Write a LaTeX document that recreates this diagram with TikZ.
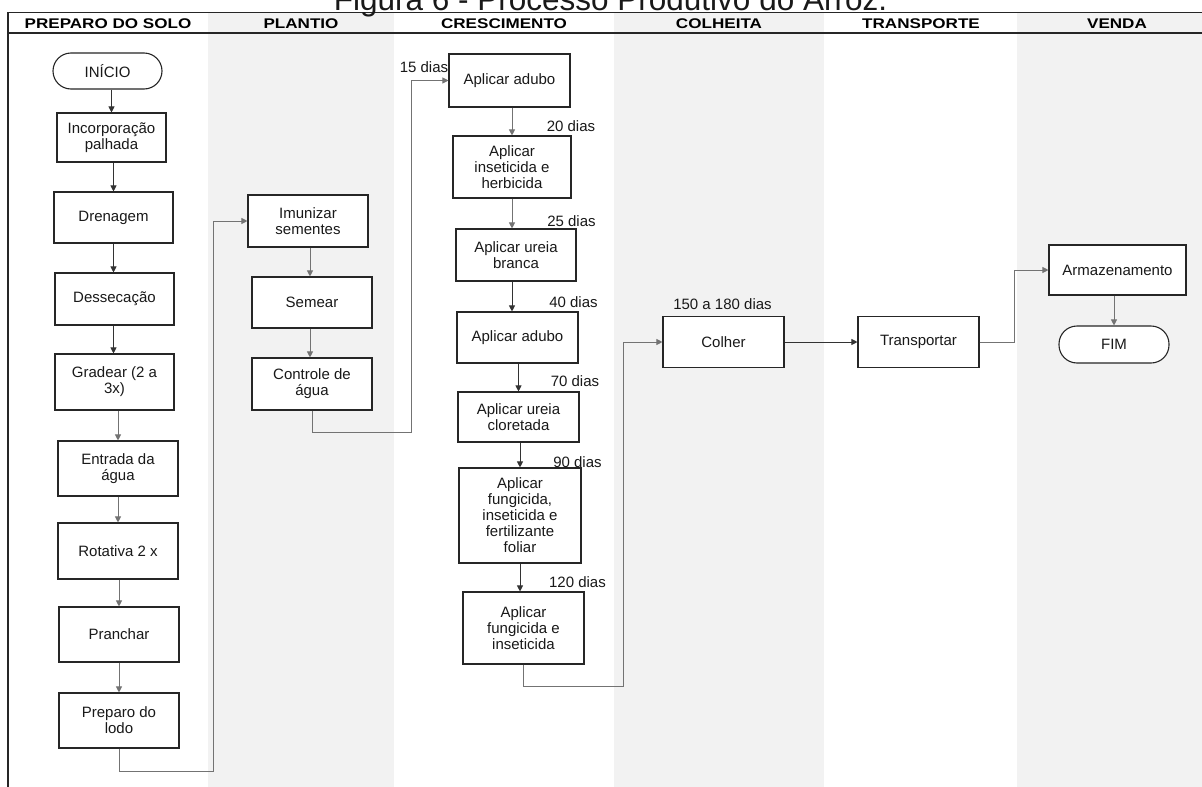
\documentclass[tikz,border=0pt]{standalone}
\usepackage{fontspec}
\setmainfont{Liberation Sans}
\newfontfamily\hdrfont[FakeStretch=1.22]{Liberation Sans}
\usetikzlibrary{arrows.meta}
\definecolor{lanegray}{HTML}{F2F2F2}
\begin{document}
\begin{tikzpicture}[x=1pt,y=-1pt,
  box/.style={draw=black!85, line width=1.1pt, fill=white, align=center, inner sep=2pt,
    font=\fontsize{15}{16}\selectfont, text=black!90},
  term/.style={box, rounded corners=18pt},
  arr/.style={draw=black!80, line width=0.9pt, -{Triangle[length=6pt,width=6pt]}},
  arrgray/.style={draw=black!55, line width=0.9pt, -{Triangle[length=6pt,width=6pt]}},
  lbl/.style={font=\fontsize{15}{16}\selectfont, text=black!90, inner sep=0pt},
  hdr/.style={font=\hdrfont\bfseries\fontsize{14}{16}\selectfont, anchor=base, inner sep=0pt},
  frame/.style={draw=black!85, line width=1.3pt}]
\useasboundingbox (0,0) rectangle (1202,787);
\fill[white] (0,0) rectangle (1202,787);
% lanes
\fill[lanegray] (208,12.3) rectangle (394,787);
\fill[lanegray] (614,12.3) rectangle (824,787);
\fill[lanegray] (1017,12.3) rectangle (1202,787);
% frame
\draw[frame] (8,12.3) -- (1202,12.3);
\draw[frame] (8,33) -- (1202,33);
\draw[frame] (8,12.3) -- (8,787);
% title
\node[anchor=base, inner sep=0pt, font=\fontsize{31.5}{36}\selectfont, text=black!90] (title) at (610.5,10.5) {Figura 6 - Processo Produtivo do Arroz.};
% headers
\node[hdr] (h1) at (108,28) {PREPARO DO SOLO};
\node[hdr] (h2) at (301,28) {PLANTIO};
\node[hdr] (h3) at (504,28) {CRESCIMENTO};
\node[hdr] (h4) at (719,28) {COLHEITA};
\node[hdr] (h5) at (921,28) {TRANSPORTE};
\node[hdr] (h6) at (1117,28) {VENDA};
% preparo do solo
\node[term, minimum width=109pt, minimum height=36pt] (ini) at (107.5,71) {INÍCIO};
\node[box, minimum width=109pt, minimum height=49pt] (inc) at (111.5,137.5) {Incorporação\\palhada};
\node[box, minimum width=119pt, minimum height=51pt] (dren) at (113.5,217.5) {Drenagem};
\node[box, minimum width=119pt, minimum height=52pt] (dess) at (114.5,299) {Dessecação};
\node[box, minimum width=119pt, minimum height=56pt] (grad) at (114.5,382) {Gradear (2 a\\3x)};
\node[box, minimum width=120pt, minimum height=55pt] (entr) at (118,468.5) {Entrada da\\água};
\node[box, minimum width=120pt, minimum height=56pt] (rot) at (118,551) {Rotativa 2 x};
\node[box, minimum width=120pt, minimum height=55pt] (pran) at (119,634.5) {Pranchar};
\node[box, minimum width=120pt, minimum height=55pt] (lodo) at (119,720.5) {Preparo do\\lodo};
% plantio
\node[box, minimum width=120pt, minimum height=52pt] (imun) at (308,221) {Imunizar\\sementes};
\node[box, minimum width=120pt, minimum height=51pt] (sem) at (312,302.5) {Semear};
\node[box, minimum width=120pt, minimum height=52pt] (ctrl) at (312,384) {Controle de\\água};
% crescimento
\node[box, minimum width=121pt, minimum height=53pt] (ad1) at (509.5,80.5) {Aplicar adubo};
\node[box, minimum width=118pt, minimum height=62pt] (ins) at (512,167) {Aplicar\\inseticida e\\herbicida};
\node[box, minimum width=120pt, minimum height=52pt] (ub) at (516,255) {Aplicar ureia\\branca};
\node[box, minimum width=121pt, minimum height=51pt] (ad2) at (517.5,337.5) {Aplicar adubo};
\node[box, minimum width=121pt, minimum height=50pt] (clo) at (518.5,417) {Aplicar ureia\\cloretada};
\node[box, minimum width=122pt, minimum height=95pt] (fun1) at (520,515.5) {Aplicar\\fungicida,\\inseticida e\\fertilizante\\foliar};
\node[box, minimum width=121pt, minimum height=72pt] (fun2) at (523.5,628) {Aplicar\\fungicida e\\inseticida};
% colheita, transporte, venda
\node[box, minimum width=121pt, minimum height=51pt] (col) at (723.5,342) {Colher};
\node[box, minimum width=121pt, minimum height=51pt] (tra) at (918.5,342) {Transportar};
\node[box, minimum width=137pt, minimum height=50pt] (arm) at (1117.5,270) {Armazenamento};
\node[term, minimum width=110pt, minimum height=37pt] (fim) at (1114,344.5) {FIM};
% labels
\node[lbl] (l15) at (424,67) {15 dias};
\node[lbl] (l20) at (571,126) {20 dias};
\node[lbl] (l25) at (571.5,221) {25 dias};
\node[lbl] (l40) at (573.5,302) {40 dias};
\node[lbl] (l70) at (575,381) {70 dias};
\node[lbl] (l90) at (577.5,462) {90 dias};
\node[lbl] (l120) at (577.5,582) {120 dias};
\node[lbl] (l150) at (722.5,304) {150 a 180 dias};
% connectors
\draw[arr] (inc.north |- ini.south) -- (inc.north);
\draw[arr] (dren.north |- inc.south) -- (dren.north);
\draw[arr] (dren.south) -- (dren.south |- dess.north);
\draw[arr] (dren.south |- dess.south) -- (dren.south |- grad.north);
\draw[arrgray] (entr.north |- grad.south) -- (entr.north);
\draw[arrgray] (entr.south) -- (entr.south |- rot.north);
\draw[arrgray] (pran.north |- rot.south) -- (pran.north);
\draw[arrgray] (pran.south) -- (pran.south |- lodo.north);
\coordinate (j1) at (213,771);
\draw[arrgray] (lodo.south) |- (j1) |- (imun.west);
\draw[arrgray] ([xshift=2pt]imun.south) -- ([xshift=2pt]imun.south |- sem.north);
\draw[arrgray] ([xshift=-2pt]sem.south) -- ([xshift=-2pt]sem.south |- ctrl.north);
\coordinate (j2) at (411,432);
\draw[arrgray] (ctrl.south) |- (j2) |- (ad1.west);
\draw[arrgray] (ins.north |- ad1.south) -- (ins.north);
\draw[arrgray] (ins.south) -- (ins.south |- ub.north);
\draw[arr] (ins.south |- ub.south) -- (ins.south |- ad2.north);
\draw[arr] (clo.north |- ad2.south) -- (clo.north);
\draw[arr] (fun1.north |- clo.south) -- (fun1.north);
\draw[arr] (fun1.south) -- (fun1.south |- fun2.north);
\coordinate (j3) at (623,686);
\draw[arrgray] (fun2.south) |- (j3) |- (col.west);
\draw[arr] (col.east) -- (tra.west);
\coordinate (j4) at (1014,342);
\draw[arrgray] (tra.east) -- (j4) |- (arm.west);
\draw[arrgray] (fim.north |- arm.south) -- (fim.north);
\end{tikzpicture}
\end{document}
